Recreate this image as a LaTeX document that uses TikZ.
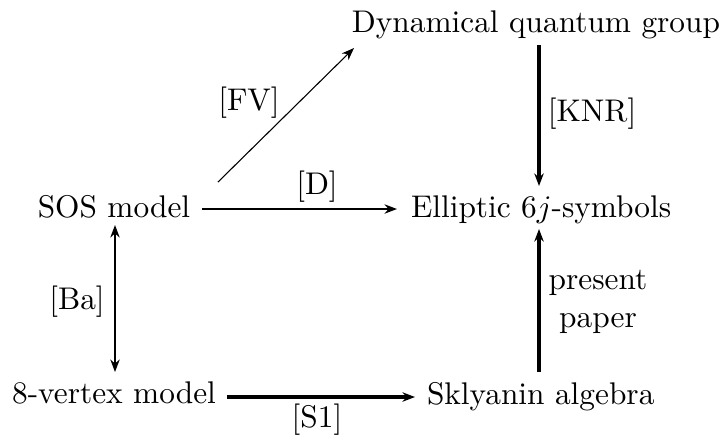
\documentclass[tikz,border=0pt]{standalone}
\usetikzlibrary{arrows.meta}
\begin{document}
\begin{tikzpicture}[x=0.319pt,y=-0.319pt,
  lbl/.style={inner sep=0pt,outer sep=0pt,font=\normalsize},
  edgelbl/.style={inner sep=0pt,font=\normalsize},
  tip/.style={Stealth[length=4pt,width=3pt]},
  arr/.style={-{Stealth[length=4pt,width=3pt]}},
  thinline/.style={line width=0.35pt},
  medline/.style={line width=0.5pt},
  thickline/.style={line width=1pt}]
\useasboundingbox (0,0) rectangle (724,439);
% nodes
\node[lbl,anchor=base east] (dqg) at (720,32) {Dynamical quantum group};
\node[lbl,anchor=base] (sos) at (114,217) {SOS model};
\node[lbl,anchor=base west] (ell) at (411,217) {Elliptic $6j$-symbols};
\node[lbl,anchor=base] (eight) at (114,403) {8-vertex model};
\node[lbl,anchor=base west] (skl) at (427,404) {Sklyanin algebra};
% connector end points
\coordinate (fvA) at (218,182);
\coordinate (fvB) at (354,48);
\coordinate (dA) at (202,209);
\coordinate (dB) at (397,209);
\coordinate (kA) at (539,45);
\coordinate (kB) at (539,186);
\coordinate (pA) at (539,372);
\coordinate (pB) at (539,229);
\coordinate (bA) at (115,225);
\coordinate (bB) at (115,372);
\coordinate (sA) at (227,397);
\coordinate (sB) at (415,397);
% connectors
\draw[arr,thinline] (fvA) -- (fvB);
\draw[arr,medline] (dA) -- (dB);
\draw[arr,thickline] (kA) -- (kB);
\draw[arr,thickline] (pA) -- (pB);
\draw[{Stealth[length=4pt,width=3pt]}-{Stealth[length=4pt,width=3pt]},medline] (bA) -- (bB);
\draw[arr,thickline] (sA) -- (sB);
% labels
\node[edgelbl] (lfv) at (249,103) {[FV]};
\node[edgelbl] (ld) at (317,187) {[D]};
\node[edgelbl] (lk) at (592,114) {[KNR]};
\node[edgelbl,align=center] (lp) at (598,302) {present\\paper};
\node[edgelbl] (lb) at (77,302) {[Ba]};
\node[edgelbl] (ls) at (317,420) {[S1]};
\end{tikzpicture}
\end{document}
